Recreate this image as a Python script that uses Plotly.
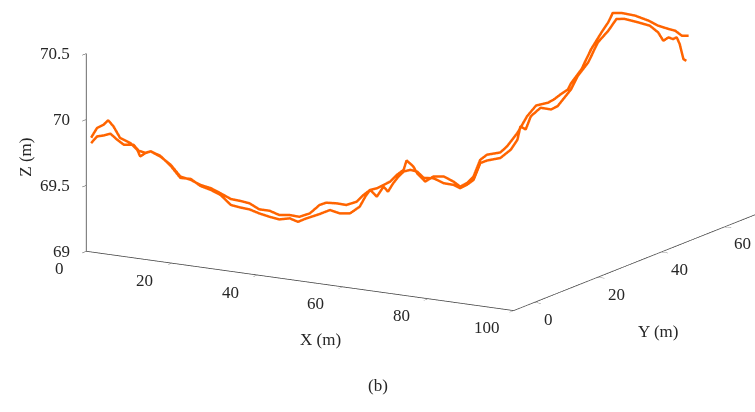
import plotly.graph_objects as go

# ---- data ----
xa = [0.0, 0.8, 1.7, 2.3, 3.0, 3.9, 5.3, 6.2, 6.6, 7.3, 8.0, 9.3, 10.7, 12.0, 13.4, 14.7, 16.1, 17.4,
      18.8, 20.1, 21.3, 22.6, 24.0, 25.3, 26.7, 28.0, 29.4, 30.7, 31.6, 33.0, 34.3, 35.7, 36.6, 37.5,
      38.4, 39.3, 40.2, 41.1, 42.0, 42.4, 43.3, 43.8, 44.9, 46.0, 47.4, 48.7, 49.6, 50.5, 51.4, 52.3,
      53.2, 55.0, 55.9, 57.3, 58.6, 59.8, 61.4, 62.2, 63.1, 64.1, 64.5, 65.9, 67.2, 68.6, 69.5, 70.1,
      71.3, 73.1, 74.9, 76.2, 77.6, 78.5, 79.4, 80.3]
ya = [-5.0, -4.2, -3.3, -2.7, -2.0, -1.1, 0.3, 1.2, 1.6, 2.3, 3.0, 4.3, 5.7, 7.0, 8.4, 9.7, 11.1, 12.4,
      13.8, 15.1, 16.3, 17.6, 19.0, 20.3, 21.7, 23.0, 24.4, 25.7, 26.6, 28.0, 29.3, 30.7, 31.6, 32.5,
      33.4, 34.3, 35.2, 36.1, 37.0, 37.4, 38.3, 38.8, 39.9, 41.0, 42.4, 43.7, 44.6, 45.5, 46.4, 47.3,
      48.2, 50.0, 50.9, 52.3, 53.6, 54.8, 56.4, 57.2, 58.1, 59.1, 59.5, 60.9, 62.2, 63.6, 64.5, 65.1,
      66.3, 68.1, 69.9, 71.2, 72.6, 73.5, 74.4, 75.3]
za = [69.847, 69.917, 69.938, 69.968, 69.919, 69.826, 69.780, 69.725, 69.672, 69.694, 69.703, 69.658,
      69.588, 69.492, 69.460, 69.415, 69.383, 69.338, 69.287, 69.266, 69.242, 69.190, 69.172, 69.133,
      69.126, 69.106, 69.125, 69.182, 69.195, 69.183, 69.164, 69.182, 69.228, 69.262, 69.270, 69.291,
      69.312, 69.358, 69.392, 69.461, 69.411, 69.358, 69.288, 69.321, 69.314, 69.269, 69.226, 69.248,
      69.294, 69.416, 69.450, 69.458, 69.500, 69.595, 69.715, 69.790, 69.803, 69.824, 69.858, 69.891,
      69.935, 70.034, 70.180, 70.301, 70.372, 70.440, 70.434, 70.405, 70.358, 70.313, 70.281, 70.263,
      70.220, 70.216]

xb = [0.0, 0.8, 1.7, 2.6, 3.5, 4.4, 5.7, 6.4, 7.3, 8.0, 9.3, 10.7, 12.0, 13.4, 14.7, 16.1, 17.4, 18.8,
      20.1, 21.3, 22.6, 24.0, 25.3, 26.7, 27.8, 28.9, 30.7, 32.1, 33.4, 34.8, 36.1, 36.9, 37.5, 38.4,
      39.3, 39.9, 40.6, 41.3, 42.0, 42.9, 43.8, 44.7, 46.0, 47.4, 48.7, 49.6, 50.5, 51.4, 52.3, 53.2,
      55.0, 56.4, 57.3, 57.7, 58.4, 59.1, 60.4, 61.8, 62.7, 63.6, 64.5, 65.4, 66.8, 68.1, 69.5, 70.6,
      71.7, 73.5, 75.1, 76.2, 76.9, 77.6, 78.2, 78.7, 79.1, 79.6, 80.0]
yb = [-5.0, -4.2, -3.3, -2.4, -1.5, -0.6, 0.7, 1.4, 2.3, 3.0, 4.3, 5.7, 7.0, 8.4, 9.7, 11.1, 12.4, 13.8,
      15.1, 16.3, 17.6, 19.0, 20.3, 21.7, 22.8, 23.9, 25.7, 27.1, 28.4, 29.8, 31.1, 31.9, 32.5, 33.4,
      34.3, 34.9, 35.6, 36.3, 37.0, 37.9, 38.8, 39.7, 41.0, 42.4, 43.7, 44.6, 45.5, 46.4, 47.3, 48.2,
      50.0, 51.4, 52.3, 52.7, 53.4, 54.1, 55.4, 56.8, 57.7, 58.6, 59.5, 60.4, 61.8, 63.1, 64.5, 65.6,
      66.7, 68.5, 70.1, 71.2, 71.9, 72.6, 73.2, 73.7, 74.1, 74.6, 75.0]
zb = [69.806, 69.853, 69.856, 69.865, 69.815, 69.772, 69.765, 69.716, 69.696, 69.704, 69.663, 69.580,
      69.482, 69.467, 69.407, 69.370, 69.325, 69.242, 69.216, 69.196, 69.159, 69.126, 69.100, 69.101,
      69.069, 69.089, 69.113, 69.137, 69.105, 69.098, 69.142, 69.219, 69.262, 69.206, 69.278, 69.237,
      69.297, 69.344, 69.379, 69.387, 69.370, 69.317, 69.308, 69.263, 69.244, 69.214, 69.235, 69.268,
      69.391, 69.406, 69.416, 69.472, 69.544, 69.643, 69.615, 69.712, 69.770, 69.750, 69.771, 69.830,
      69.889, 69.986, 70.081, 70.227, 70.308, 70.392, 70.387, 70.352, 70.318, 70.262, 70.195, 70.217,
      70.201, 70.212, 70.159, 70.042, 70.027]

x_ticks = [0, 20, 40, 60, 80, 100]
y_ticks = [0, 20, 40, 60]
z_ticks = [69, 69.5, 70, 70.5]
z_ticklabels = ["69", "69.5", "70", "70.5"]

x_range = [0, 100]
y_range = [-6.5, 80]
z_range = [69, 70.5]

x_title, y_title, z_title = "X (m)", "Y (m)", "Z (m)"
caption = "(b)"

LINE_COLOR = "#FF6400"
FONT = "Liberation Serif"
AX_COLOR = "#3a3a3a"
TXT_COLOR = "#262626"

fig = go.Figure()
for xs, ys, zs in [(xa, ya, za), (xb, yb, zb)]:
    fig.add_trace(go.Scatter3d(x=xs, y=ys, z=zs, mode="lines",
                               line=dict(color=LINE_COLOR, width=5),
                               hoverinfo="skip", showlegend=False))

def axis(rng, tv, ticks):
    return dict(title=dict(text=""), range=rng, tickvals=tv, autorange=False,
                showticklabels=False,
                showbackground=False, showgrid=False, zeroline=False,
                showline=True, linecolor=AX_COLOR, linewidth=1.5,
                ticks=ticks, ticklen=8, tickcolor=AX_COLOR, tickwidth=1,
                showspikes=False)

tfont = dict(family=FONT, size=17, color=TXT_COLOR)
ann = []
# tick labels, placed at tick positions through the scene's own projection
for v in x_ticks:
    ann.append(dict(x=v, y=y_range[0], z=z_range[0], text=str(v), showarrow=False,
                    xanchor="center", yanchor="middle", xshift=-27, yshift=-17, font=tfont))
for v in y_ticks:
    ann.append(dict(x=x_range[1], y=v, z=z_range[0], text=str(v), showarrow=False,
                    xanchor="left", yanchor="middle", xshift=8, yshift=-17, font=tfont))
for v, t in zip(z_ticks, z_ticklabels):
    ann.append(dict(x=x_range[0], y=y_range[0], z=v, text=t, showarrow=False,
                    xanchor="right", yanchor="middle", xshift=-14, yshift=0, font=tfont))
# axis titles
ann.append(dict(x=50, y=y_range[0], z=z_range[0], text=x_title, showarrow=False,
                xanchor="center", yanchor="middle", xshift=20, yshift=-59, font=tfont))
ann.append(dict(x=x_range[1], y=30, z=z_range[0], text=y_title, showarrow=False,
                xanchor="center", yanchor="middle", xshift=29, yshift=-67, font=tfont))
ann.append(dict(x=x_range[0], y=y_range[0], z=69.75, text=z_title, showarrow=False,
                textangle=-90, xanchor="center", yanchor="middle", xshift=-61, yshift=-5,
                font=tfont))

fig.update_layout(
    width=755, height=412,
    margin=dict(l=0, r=0, t=0, b=0),
    paper_bgcolor="white",
    scene=dict(
        domain=dict(x=[0, 1], y=[0, 1]),
        xaxis=axis(x_range, x_ticks, "outside"),
        yaxis=axis(y_range, y_ticks, "outside"),
        zaxis=axis(z_range, z_ticks, "outside"),
        aspectmode="manual",
        aspectratio=dict(x=2.41, y=2.614, z=0.9874),
        camera=dict(
            projection=dict(type="orthographic"),
            up=dict(x=0, y=0, z=1),
            center=dict(x=-0.2033, y=-0.2238, z=-0.3696),
            eye=dict(x=1.0332, y=-2.3156, z=0.2172),
        ),
        annotations=ann,
    ),
    annotations=[dict(text=caption, x=0.5, y=0.0655, xref="paper", yref="paper",
                      xanchor="center", yanchor="middle",
                      showarrow=False, font=tfont)],
)

fig.write_html("out.html")
